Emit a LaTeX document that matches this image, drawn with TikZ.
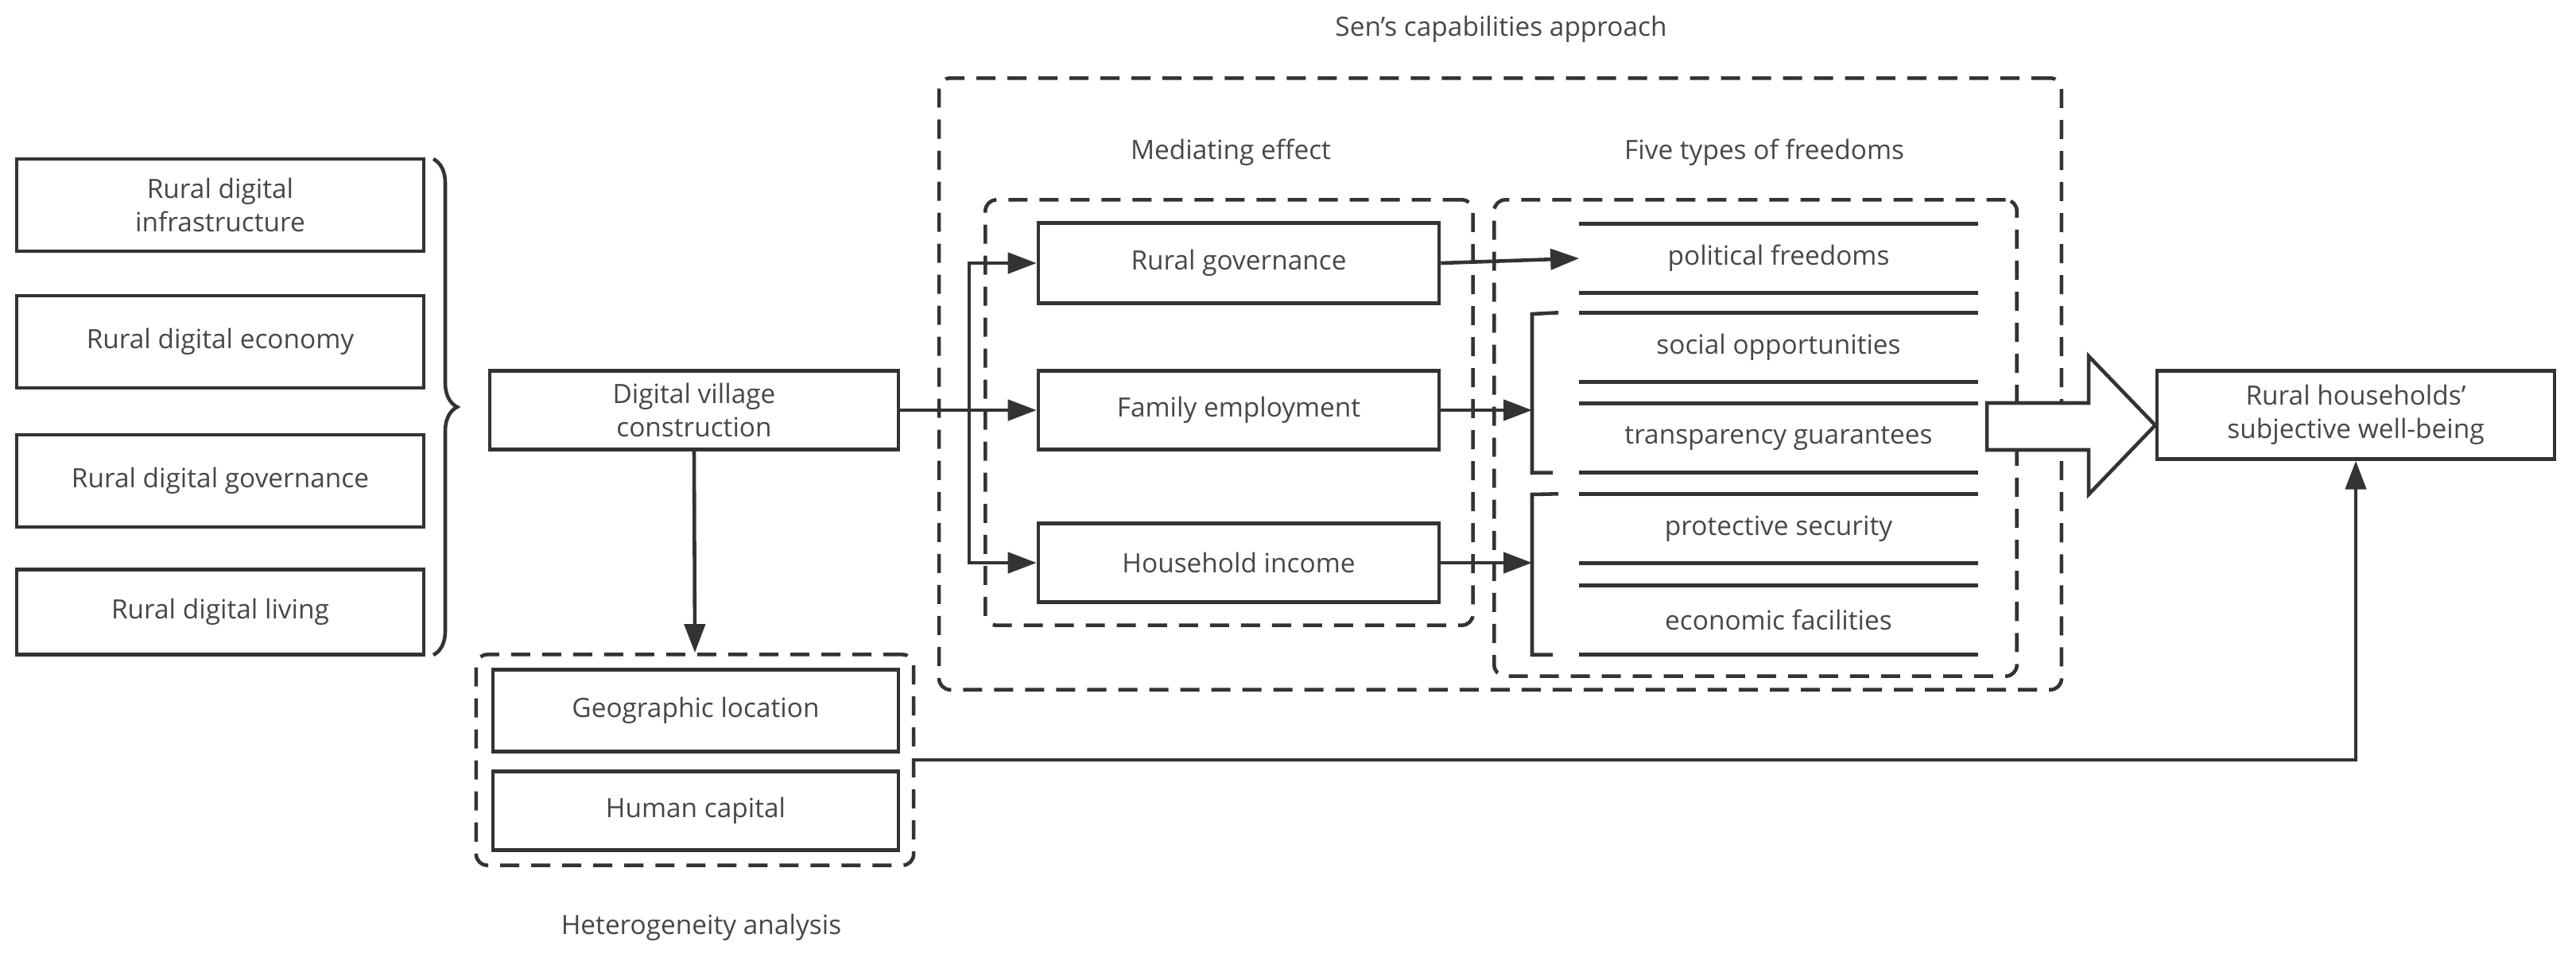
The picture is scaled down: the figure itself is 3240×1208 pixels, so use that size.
\documentclass[tikz,border=0pt]{standalone}
\usepackage{fontspec}
\setmainfont{Open Sans}
\usetikzlibrary{positioning, arrows.meta, decorations.pathreplacing}
\definecolor{ink}{HTML}{333333}

\begin{document}
\begin{tikzpicture}[x=0.01cm, y=-0.01cm, font=\fontsize{9.5}{12}\selectfont, text=ink!90]
\tikzstyle{box}=[draw=ink, line width=1.2pt, rectangle, fill=white, text centered, align=center, minimum width=5.1cm, inner sep=0pt]
\tikzstyle{group}=[draw=ink, line width=1.3pt, rectangle, rounded corners=4pt, dash pattern=on 2.4mm off 1.5mm]
\tikzstyle{freedom}=[rectangle, minimum width=5cm, minimum height=0.86cm, inner sep=0pt]
\tikzstyle{link}=[draw=ink, line width=1.3pt, -{Triangle[length=3.6mm, width=2.6mm]}]
\tikzstyle{line}=[draw=ink, line width=1.3pt]

\useasboundingbox (0,0) rectangle (3240,1208);

% dashed groups
\node[group, minimum width=14.11cm, minimum height=7.69cm](sen) at (1887,483) {};
\node[group, minimum width=6.13cm, minimum height=5.35cm](med) at (1546,519) {};
\node[group, minimum width=6.57cm, minimum height=5.99cm](five) at (2208,551) {};
\node[group, minimum width=5.5cm, minimum height=2.65cm](het) at (874,956) {};
\node(sen-label) at (1888,37) {Sen's capabilities approach};
\node(med-label) at (1548,192) {Mediating effect};
\node(five-label) at (2219,192) {Five types of freedoms};
\node(het-label) at (882,1167) {Heterogeneity analysis};

% dimensions of digital village
\node[box, minimum width=5.12cm, minimum height=1.16cm](infra) at (277,258) {Rural digital\\infrastructure};
\node[box, minimum width=5.12cm, minimum height=1.16cm](econ) at (277,430) {Rural digital economy};
\node[box, minimum width=5.12cm, minimum height=1.16cm](gov) at (277,605) {Rural digital governance};
\node[box, minimum width=5.12cm, minimum height=1.07cm](living) at (277,770) {Rural digital living};
\draw[line, decorate, decoration={brace, amplitude=0.3cm}] (545,200) -- (545,824);

\node[box, minimum width=5.14cm, minimum height=0.99cm](dv) at (873,516) {Digital village\\construction};
\node[box, minimum width=5.1cm, minimum height=1.03cm](geo) at (875,894) {Geographic location};
\node[box, minimum width=5.1cm, minimum height=0.99cm](human) at (875,1020) {Human capital};

% mediators
\node[box, minimum width=5.04cm, minimum height=1.01cm](rg) at (1558,331) {Rural governance};
\node[box, minimum width=5.04cm, minimum height=0.99cm](fe) at (1558,516) {Family employment};
\node[box, minimum width=5.04cm, minimum height=0.99cm](hi) at (1558,708) {Household income};

% freedoms
\node[freedom](pf) at (2237,325) {political freedoms};
\node[freedom](so) at (2237,437) {social opportunities};
\node[freedom](tg) at (2237,551) {transparency guarantees};
\node[freedom](ps) at (2237,665) {protective security};
\node[freedom](ef) at (2237,780) {economic facilities};
\foreach \f in {pf, so, tg, ps, ef}
  \draw[line] (\f.north west) -- (\f.north east) (\f.south west) -- (\f.south east);

\node[box, minimum width=5cm, minimum height=1.11cm](rh) at (2963,522) {Rural households'\\subjective well-being};

% connectors
\coordinate(split) at (1219,516);
\coordinate(b1) at (1927,395);
\coordinate(b2) at (1927,622);
\path[link] (dv.east) -- (fe.west);
\path[link] (split) |- (rg.west);
\path[link] (split) |- (hi.west);
\path[link] (rg.east) -- (pf.west);
\draw[line] (so.north west) ++(-26,0) -- (b1) -- (b1 |- tg.south) -- ++(26,0);
\draw[line] (ps.north west) ++(-26,0) -- (b2) -- (b2 |- ef.south) -- ++(26,0);
\path[link] (fe.east) -- (fe.east -| b1);
\path[link] (hi.east) -- (hi.east -| b2);
\draw[line, fill=white] (2499,507) -- (2627,507) -- (2627,448) -- (rh.west |- 0,535) -- (2627,622) -- (2627,566) -- (2499,566) -- cycle;
\path[link] (dv.south) -- (het.north);
\path[link] (het.east) -| (rh.south);
\end{tikzpicture}
\end{document}
